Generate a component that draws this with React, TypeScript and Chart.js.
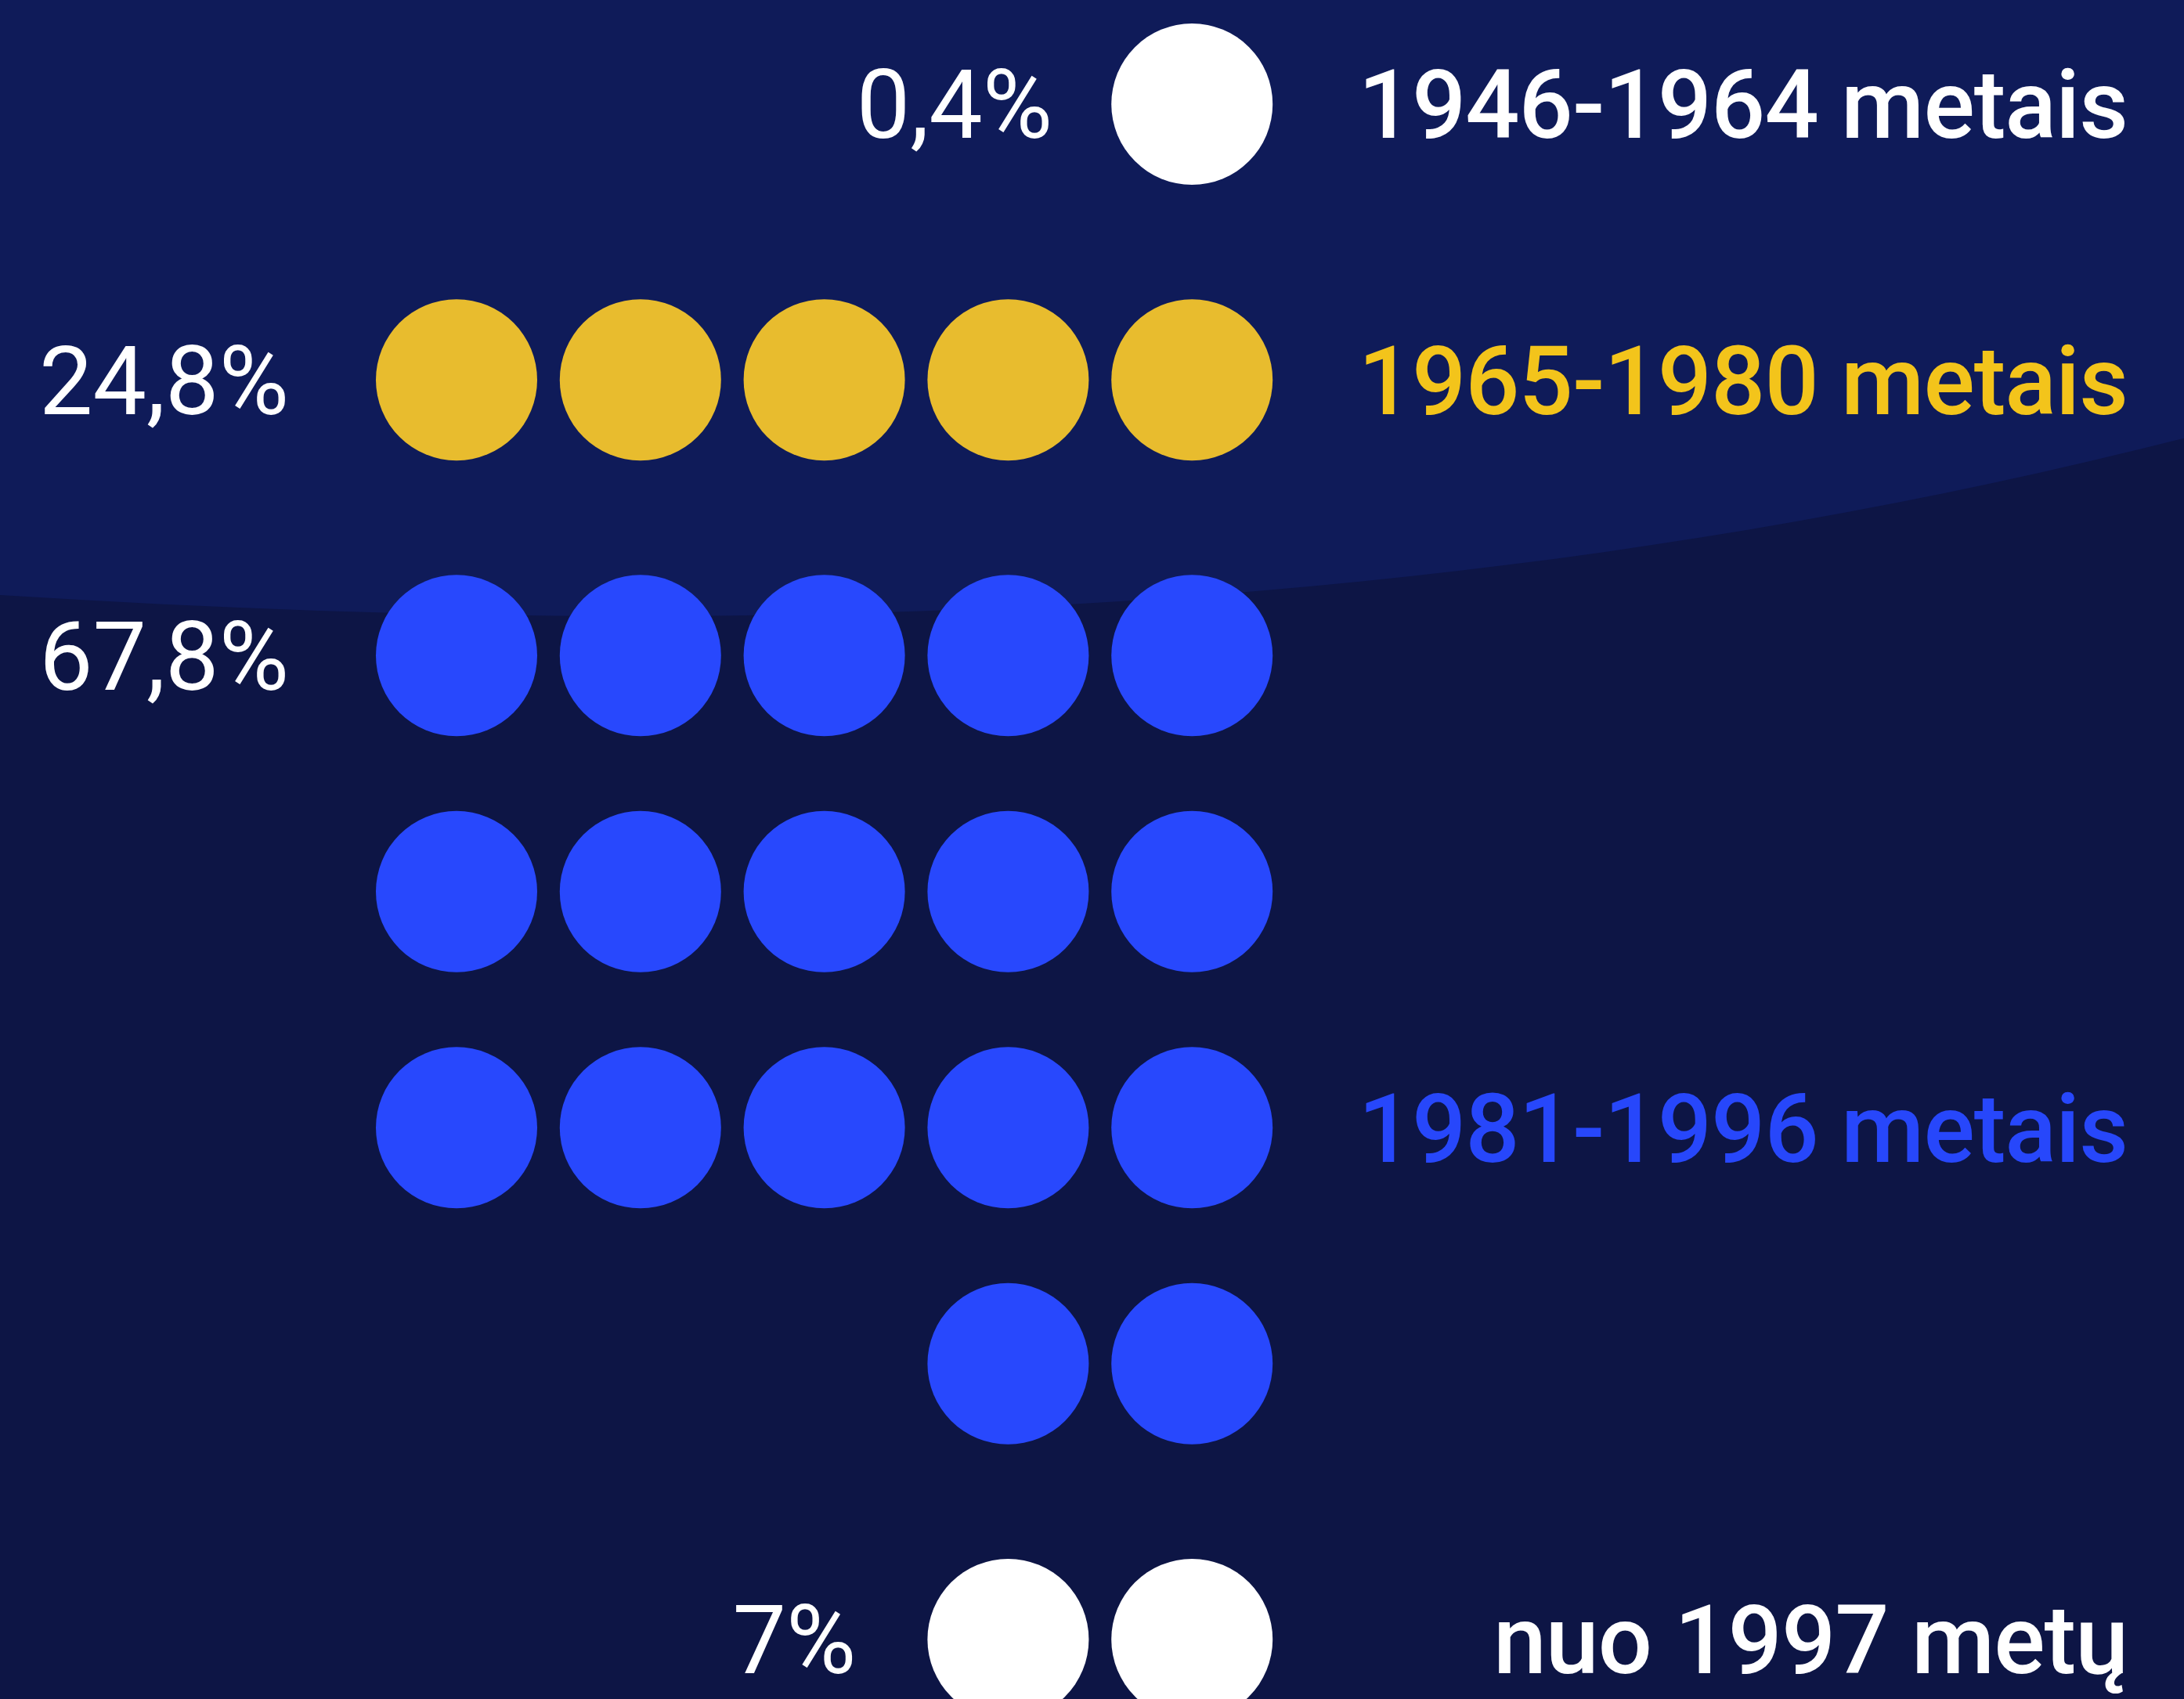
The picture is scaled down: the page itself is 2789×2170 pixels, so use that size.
import React, { useEffect, useRef } from "react";
import { Chart, registerables } from "chart.js";

Chart.register(...registerables);

// ---- data ----
const generations = ["1946-1964 metais", "1965-1980 metais", "1981-1996 metais", "nuo 1997 metų"];
const shares = ["0,4%", "24,8%", "67,8%", "7%"];
const dotCounts = [1, 5, 17, 2];
const dotColors = ["#ffffff", "#e8bc2e", "#2848fd", "#ffffff"];
const textColors = ["#ffffff", "#f3c41b", "#2747fb", "#ffffff"];
const labelRowInGroup = [0, 0, 2, 0];
const columns = 5;

// ---- layout / style ----
const W = 2789;
const H = 2170;
const RADIUS = 103;
const GROUP_GAP = 0.168;
const PCT_GAP = [75, 111, 111, 91];
const LABEL_RIGHT = 2717;
const FONT_SIZE = 122;
const CAP = 0.711;
const COL_STEP = 234.8; // px per column
const ROW_STEP = 301.5; // px per row
const FIRST_COL_X = 583;
const FIRST_ROW_Y = 133;

// chart.js pads the chart area by the point radius on each side
const areaW = W - 2 * RADIUS;
const areaH = H - 2 * RADIUS;
const xMin = -(FIRST_COL_X - RADIUS) / COL_STEP;
const xMax = xMin + areaW / COL_STEP;
const yMin = -(FIRST_ROW_Y - RADIUS) / ROW_STEP;
const yMax = yMin + areaH / ROW_STEP;

type Pt = { x: number; y: number; g: number; r: number };

function buildPoints() {
  const perGroup: Pt[][] = [];
  let globalRow = 0;
  dotCounts.forEach((count, g) => {
    const pts: Pt[] = [];
    const rows = Math.ceil(count / columns);
    for (let r = 0; r < rows; r++) {
      const inRow = Math.min(columns, count - r * columns);
      for (let k = 0; k < inRow; k++) {
        pts.push({ x: columns - inRow + k, y: globalRow + r + g * GROUP_GAP, g, r });
      }
    }
    globalRow += rows;
    perGroup.push(pts);
  });
  return perGroup;
}

const bgPlugin = {
  id: "bg",
  beforeDraw(chart: any) {
    const ctx = chart.ctx;
    const w = chart.width;
    const h = chart.height;
    ctx.save();
    ctx.fillStyle = "#0d1545";
    ctx.fillRect(0, 0, w, h);
    ctx.fillStyle = "#0f1b59";
    ctx.beginPath();
    ctx.moveTo(0, 0);
    ctx.lineTo(0, h * 0.3502);
    ctx.bezierCurveTo(w * 0.3333, h * 0.377, w * 0.6667, h * 0.3668, w, h * 0.258);
    ctx.lineTo(w, 0);
    ctx.closePath();
    ctx.fill();
    ctx.restore();
  },
};

export default function App() {
  const ref = useRef<HTMLCanvasElement | null>(null);
  useEffect(() => {
    if (!ref.current) return;
    const groups = buildPoints();
    const labelPlugin = {
      id: "labels",
      afterDatasetsDraw(chart: any) {
        const ctx = chart.ctx;
        const xs = chart.scales.x;
        const ys = chart.scales.y;
        ctx.save();
        groups.forEach((pts, g) => {
          const first = pts[0];
          const yPix = ys.getPixelForValue(first.y) + (FONT_SIZE * CAP) / 2;
          ctx.font = `400 ${FONT_SIZE}px Roboto`;
          (ctx as any).letterSpacing = "0px";
          ctx.fillStyle = "#ffffff";
          ctx.textAlign = "right";
          ctx.textBaseline = "alphabetic";
          const xPct = xs.getPixelForValue(first.x) - RADIUS - PCT_GAP[g];
          ctx.fillText(shares[g], xPct, yPix);
          const lp = pts.find((p) => p.r === labelRowInGroup[g]) || first;
          const yl = ys.getPixelForValue(lp.y) + (FONT_SIZE * CAP) / 2;
          ctx.font = `500 ${FONT_SIZE}px Roboto`;
          (ctx as any).letterSpacing = "-1px";
          ctx.fillStyle = textColors[g];
          ctx.fillText(generations[g], LABEL_RIGHT, yl);
        });
        ctx.restore();
      },
    };
    const chart = new Chart(ref.current, {
      type: "scatter",
      data: {
        datasets: groups.map((pts, g) => ({
          label: generations[g],
          data: pts.map((p) => ({ x: p.x, y: p.y })),
          backgroundColor: dotColors[g],
          borderWidth: 0,
          pointRadius: RADIUS,
          pointHoverRadius: RADIUS,
          clip: false as any,
        })),
      },
      options: {
        animation: false,
        responsive: false,
        devicePixelRatio: 1,
        events: [],
        layout: { padding: 0 },
        plugins: { legend: { display: false }, tooltip: { enabled: false } },
        scales: {
          x: { type: "linear", display: false, min: xMin, max: xMax },
          y: { type: "linear", display: false, reverse: true, min: yMin, max: yMax },
        },
      },
      plugins: [bgPlugin, labelPlugin],
    });
    return () => chart.destroy();
  }, []);
  return (
    <div style={{ position: "absolute", left: 0, top: 0, width: W, height: H }}>
      <canvas ref={ref} width={W} height={H} style={{ display: "block" }} />
    </div>
  );
}
